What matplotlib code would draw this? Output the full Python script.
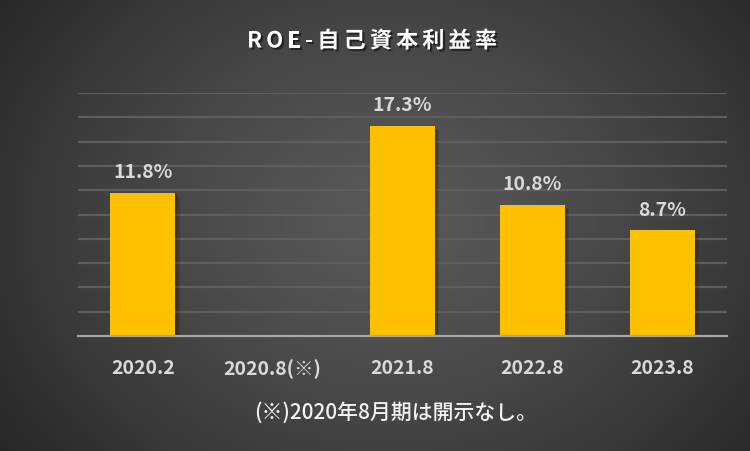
import numpy as np
import matplotlib
matplotlib.use("Agg")
import matplotlib.pyplot as plt
import matplotlib.patheffects as pe

# data
categories = ["2020.2", "2020.8(※)", "2021.8", "2022.8", "2023.8"]
roe = [11.8, np.nan, 17.3, 10.8, 8.7]
labels = ["11.8%", "", "17.3%", "10.8%", "8.7%"]
title = "ROE-自己資本利益率"
note = "(※)2020年8月期は開示なし。"

plt.rcParams['font.family'] = ['Noto Sans CJK JP', 'DejaVu Sans']

fig = plt.figure(figsize=(7.5, 4.51), dpi=100)

# radial gradient background
bg = fig.add_axes([0, 0, 1, 1], zorder=0)
yy, xx = np.mgrid[0:451, 0:750]
r = np.sqrt(((xx - 390) / 520.0) ** 2 + ((yy - 220) / 420.0) ** 2)
r = np.clip(r / 0.95, 0, 1)
shade = 0.345 - 0.20 * r ** 1.4
bg.imshow(np.dstack([shade, shade, shade]), aspect='auto', extent=[0, 1, 0, 1])
bg.set_axis_off()

ax = fig.add_axes([78 / 750, 1 - 336 / 451, 649 / 750, 243 / 451], zorder=1)
ax.set_facecolor('none')
x = np.arange(len(categories))
# soft shadow: a few faint offset layers
shadow = [pe.SimplePatchShadow(offset=(o, -o), shadow_rgbFace='black', alpha=0.12) for o in (1, 2, 3)]
bars = ax.bar(x, roe, width=0.5, color='#FFC000', zorder=3,
              path_effects=shadow + [pe.Normal()])

ax.set_ylim(0, 20)
ax.set_xlim(-0.5, len(categories) - 0.5)
ax.set_yticks(np.arange(2, 21, 2))
ax.yaxis.grid(True, color='#5e5e5e', linewidth=1.6)
ax.set_axisbelow(True)
for s in ['top', 'right', 'left']:
    ax.spines[s].set_visible(False)
ax.spines['bottom'].set_color('#a6a6a6')
ax.spines['bottom'].set_linewidth(1.6)
ax.spines['bottom'].set_zorder(4)
ax.tick_params(axis='y', left=False, labelleft=False)
ax.tick_params(axis='x', bottom=False, pad=13)
ax.set_xticks(x)
ax.set_xticklabels(categories, fontsize=14, fontweight='bold', color='#d9d9d9')

for xi, v, lab in zip(x, roe, labels):
    if lab:
        ax.annotate(lab, (xi, v), xytext=(0, 7.5), textcoords='offset points',
                    ha='center', va='bottom', fontsize=14, fontweight='bold', color='#d9d9d9')

# title with letter spacing
fig.canvas.draw()
renderer = fig.canvas.get_renderer()
gap = 4.0
objs = []
total = 0
for ch in title:
    t = fig.text(0, 0, ch, fontsize=16, fontweight='bold', color='white',
                 va='center', ha='left',
                 path_effects=[pe.withSimplePatchShadow(offset=(1.5, -1.5), shadow_rgbFace='black', alpha=0.5)])
    w = t.get_window_extent(renderer).width
    objs.append((t, w))
    total += w + gap
total -= gap
xpos = 372 - total / 2
for t, w in objs:
    t.set_position((xpos / 750, 1 - 41 / 451))
    xpos += w + gap

fig.text(396 / 750, 1 - 413 / 451, note, fontsize=15, fontweight='medium', color='#f2f2f2',
         ha='center', va='center')

fig.savefig("out.png", dpi=100)
